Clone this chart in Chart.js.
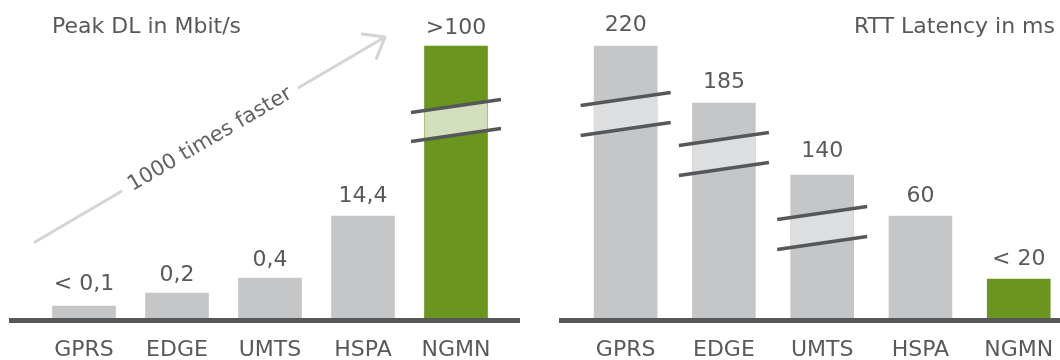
<!DOCTYPE html>
<html>
<head>
<meta charset="utf-8">
<script src="https://cdn.jsdelivr.net/npm/chart.js@4.4.0/dist/chart.umd.min.js"></script>
<style>
  html,body{margin:0;padding:0;background:#fff;}
  #wrap{position:relative;width:1060px;height:360px;overflow:hidden;}
  /* panels run past the page edge so tick labels sit low and the last bar reaches the edge */
  .panel{position:absolute;top:0;height:382px;}
  #left{left:0;width:530px;}
  #right{left:530px;width:542px;}
</style>
</head>
<body>
<div id="wrap">
  <div class="panel" id="left"><canvas id="dlChart"></canvas></div>
  <div class="panel" id="right"><canvas id="rttChart"></canvas></div>
</div>
<script>
const techs = ['GPRS', 'EDGE', 'UMTS', 'HSPA', 'NGMN'];

// peak downlink: bar heights as drawn (picture is not to scale) and the printed values
const dlHeights = [12, 25, 40, 102, 272];
const dlValueLabels = ['< 0,1', '0,2', '0,4', '14,4', '>100'];

// round trip latency
const rttHeights = [272, 215, 143, 102, 39];
const rttValueLabels = ['220', '185', '140', '60', '< 20'];

const grey = '#c5c6c8', green = '#6a951f', ink = '#58595b', dark = '#555759';
const barColors = techs.map(t => t === 'NGMN' ? green : grey);
const FONT = '"DejaVu Sans", sans-serif';

const decor = {
  id: 'decor',
  afterDatasetsDraw(chart, args, opts) {
    const ctx = chart.ctx, meta = chart.getDatasetMeta(0), y = chart.scales.y;
    ctx.save();

    // axis break marks
    (opts.breaks || []).forEach(b => {
      const bar = meta.data[b.index];
      const half = bar.width / 2;
      const x0 = bar.x - 45, x1 = bar.x + 45;
      const k = 13 / 90;
      const at = (x, yc) => yc - k * (x - bar.x);
      const yHi = y.getPixelForValue(b.hi), yLo = y.getPixelForValue(b.lo);
      ctx.save();
      ctx.beginPath();
      ctx.rect(bar.x - half, bar.y, bar.width, bar.base - bar.y);
      ctx.clip();
      ctx.fillStyle = b.band;
      ctx.beginPath();
      ctx.moveTo(x0, at(x0, yHi)); ctx.lineTo(x1, at(x1, yHi));
      ctx.lineTo(x1, at(x1, yLo)); ctx.lineTo(x0, at(x0, yLo));
      ctx.closePath();
      ctx.fill();
      ctx.restore();
      ctx.strokeStyle = dark;
      ctx.lineWidth = 3.5;
      [yHi, yLo].forEach(yc => {
        ctx.beginPath();
        ctx.moveTo(x0, at(x0, yc));
        ctx.lineTo(x1, at(x1, yc));
        ctx.stroke();
      });
    });

    // printed values above bars
    ctx.fillStyle = ink;
    ctx.font = '22px ' + FONT;
    ctx.textAlign = 'center';
    ctx.textBaseline = 'middle';
    meta.data.forEach((bar, i) => ctx.fillText(opts.values[i], bar.x, bar.y - opts.lift[i]));

    // thick baseline
    ctx.fillStyle = dark;
    ctx.fillRect(opts.baseFrom, y.getPixelForValue(0), opts.baseTo - opts.baseFrom, 5);

    // panel title
    ctx.fillStyle = ink;
    ctx.font = '22px ' + FONT;
    ctx.textBaseline = 'alphabetic';
    ctx.textAlign = opts.titleAlign;
    ctx.fillText(opts.title, opts.titleX, 33);

    // "1000 times faster" arrow
    if (opts.arrow) {
      const a = opts.arrow;
      const dx = a.to[0] - a.from[0], dy = a.to[1] - a.from[1];
      const len = Math.hypot(dx, dy), ux = dx / len, uy = dy / len;
      const mx = (a.from[0] + a.to[0]) / 2, my = (a.from[1] + a.to[1]) / 2;
      ctx.strokeStyle = '#d3d4d5';
      ctx.lineWidth = 3;
      ctx.lineCap = 'round';
      ctx.beginPath();
      ctx.moveTo(a.from[0], a.from[1]);
      ctx.lineTo(mx - ux * a.gap / 2, my - uy * a.gap / 2);
      ctx.moveTo(mx + ux * a.gap / 2, my + uy * a.gap / 2);
      ctx.lineTo(a.to[0], a.to[1]);
      const back = Math.atan2(-uy, -ux);
      [0.66, -0.66].forEach(d => {
        ctx.moveTo(a.to[0], a.to[1]);
        ctx.lineTo(a.to[0] + 23 * Math.cos(back + d), a.to[1] + 23 * Math.sin(back + d));
      });
      ctx.stroke();
      ctx.save();
      ctx.translate(mx, my);
      ctx.rotate(Math.atan2(dy, dx));
      ctx.fillStyle = '#606162';
      ctx.font = '21px ' + FONT;
      ctx.textAlign = 'center';
      ctx.textBaseline = 'middle';
      ctx.fillText(a.text, 0, 0);
      ctx.restore();
    }
    ctx.restore();
  }
};

function makeChart(id, heights, padding, decorOpts) {
  return new Chart(document.getElementById(id), {
    type: 'bar',
    data: {
      labels: techs,
      datasets: [{ data: heights, backgroundColor: barColors, barThickness: 63, borderWidth: 0 }]
    },
    options: {
      responsive: true,
      maintainAspectRatio: false,
      animation: false,
      layout: { padding },
      plugins: { legend: { display: false }, tooltip: { enabled: false }, decor: decorOpts },
      scales: {
        x: {
          grid: { display: false, drawTicks: false },
          border: { display: false },
          ticks: { color: ink, font: { family: FONT, size: 22, lineHeight: 1.2 }, padding: 18.8 }
        },
        y: { display: false, min: 0, max: 290 }
      }
    },
    plugins: [decor]
  });
}

makeChart('dlChart', dlHeights, { left: 37.5, right: 27.5, top: 28, bottom: 0 }, {
  values: dlValueLabels,
  lift: [21.5, 18, 18, 20, 17.5],
  title: 'Peak DL in Mbit/s', titleX: 52, titleAlign: 'left',
  baseFrom: 9, baseTo: 520,
  breaks: [{ index: 4, hi: 212, lo: 183, band: '#d2debc' }],
  arrow: { from: [35, 242], to: [385, 37], gap: 206, text: '1000 times faster' }
});

makeChart('rttChart', rttHeights, { left: 46.5, right: 0, top: 28, bottom: 0 }, {
  values: rttValueLabels,
  lift: [20.5, 20.5, 23.5, 19.5, 20],
  title: 'RTT Latency in ms', titleX: 525, titleAlign: 'right',
  baseFrom: 29, baseTo: 542,
  breaks: [
    { index: 0, hi: 219, lo: 189, band: '#dddee0' },
    { index: 1, hi: 179, lo: 149, band: '#dddee0' },
    { index: 2, hi: 105, lo: 75, band: '#dddee0' }
  ]
});
</script>
</body>
</html>
